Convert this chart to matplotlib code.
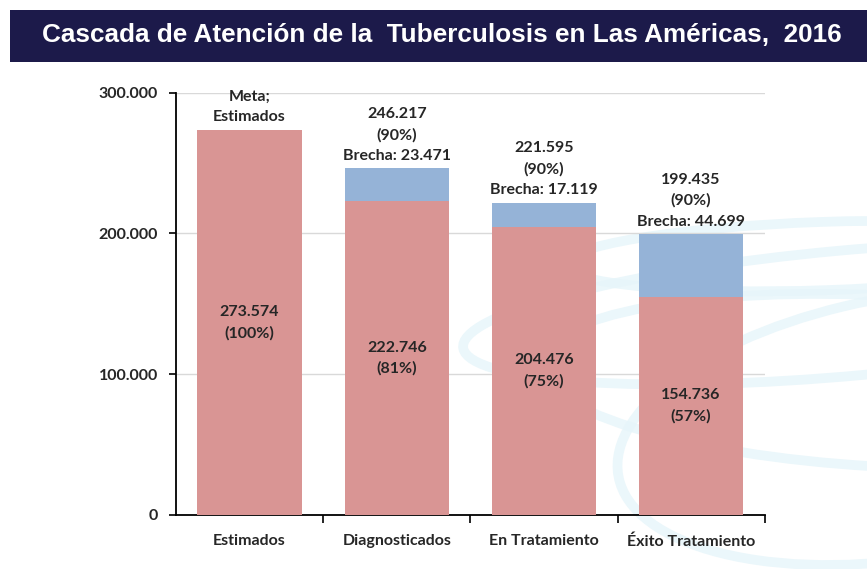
import matplotlib.pyplot as plt
from matplotlib.patches import Rectangle, Ellipse

categories = ['Estimados', 'Diagnosticados', 'En Tratamiento', 'Éxito Tratamiento']
achieved = [273574, 222746, 204476, 154736]
target = [273574, 246217, 221595, 199435]
achieved_pct = ['100%', '81%', '75%', '57%']
target_pct = ['', '90%', '90%', '90%']
gaps = [0, 23471, 17119, 44699]
yticks = [0, 100000, 200000, 300000]

red = '#d99594'
blue = '#95b3d7'
txt = '#262626'

def fmt(v):
    return f'{v:,}'.replace(',', '.')

fig = plt.figure(figsize=(8.67, 5.69), dpi=100)

# faint decorative swirl in the background (right side)
for cx, cy, w, h, ang in [(0.98, 0.45, 0.9, 0.22, 8), (1.02, 0.33, 0.8, 0.30, -5),
                          (0.95, 0.55, 0.6, 0.12, 3), (1.05, 0.25, 0.7, 0.45, 20)]:
    fig.patches.append(Ellipse((cx, cy), w, h, angle=ang, transform=fig.transFigure,
                               fill=False, lw=7, ec='#e6f5fa', alpha=0.8, zorder=-5))

# title bar
fig.patches.append(Rectangle((0.011, 0.891), 0.989, 0.091, transform=fig.transFigure,
                             fc='#1c1a4a', ec='none', zorder=1))
fig.text(0.51, 0.938, 'Cascada de Atención de la  Tuberculosis en Las Américas,  2016',
         ha='center', va='center', color='white', fontsize=18.8, fontweight='bold',
         family='Liberation Sans')

ax = fig.add_axes([0.203, 0.095, 0.679, 0.742], zorder=2)
ax.patch.set_alpha(0)
x = list(range(len(categories)))
ax.bar(x, target, width=0.71, color=blue, zorder=2)
ax.bar(x, achieved, width=0.71, color=red, zorder=3)

ax.set_ylim(0, 300000)
ax.set_xlim(-0.5, 3.5)
ax.set_yticks(yticks)
ax.set_yticklabels([fmt(v) for v in yticks])
ax.yaxis.grid(True, color='#d9d9d9', lw=1, zorder=0)
ax.set_axisbelow(True)
ax.set_xticks(x)
ax.set_xticklabels(categories)
ax.set_xticks([0.5, 1.5, 2.5, 3.5], minor=True)
ax.tick_params(axis='x', which='major', length=0, pad=14)
ax.tick_params(axis='x', which='minor', length=6, width=1.2)
ax.tick_params(axis='y', length=5, width=1.2, pad=8)
for lab in ax.get_xticklabels() + ax.get_yticklabels():
    lab.set_fontweight('bold')
    lab.set_fontsize(11.5)
    lab.set_family('Lato')
    lab.set_color(txt)
for s in ['top', 'right']:
    ax.spines[s].set_visible(False)
for s in ['left', 'bottom']:
    ax.spines[s].set_linewidth(1.3)

lbl = dict(ha='center', fontsize=11.5, fontweight='bold', family='Lato', color=txt,
           linespacing=1.6, zorder=5)
for i in x:
    ax.text(i, achieved[i] / 2, f'{fmt(achieved[i])}\n({achieved_pct[i]})', va='center', **lbl)
    if i == 0:
        ax.text(i, target[i] + 4000, 'Meta;\nEstimados', va='bottom', **lbl)
    else:
        ax.text(i, target[i] + 4000,
                f'{fmt(target[i])}\n({target_pct[i]})\nBrecha: {fmt(gaps[i])}',
                va='bottom', **lbl)

fig.savefig('out.png', dpi=100)
